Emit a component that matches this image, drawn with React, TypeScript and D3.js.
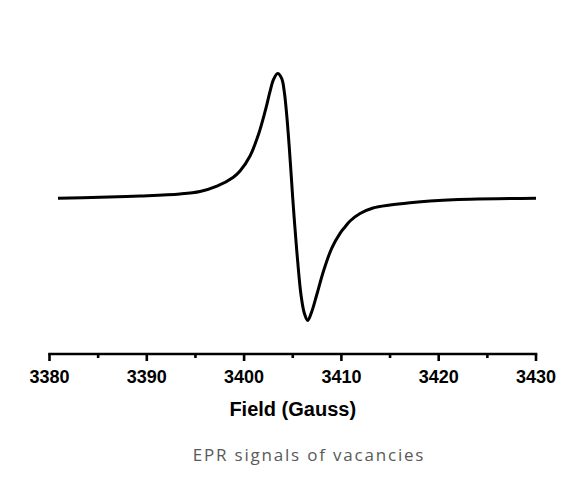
import React from "react";
import * as d3 from "d3";

// Magnetic field (Gauss) and EPR derivative signal (arbitrary units)
const fieldValues: number[] = [
  3380.87, 3385.19, 3389.3, 3393.41, 3395.47, 3397.21, 3398.86, 3399.58, 3400.61, 3401.46,
  3402.15, 3402.66, 3403.0, 3403.45, 3403.86, 3404.13, 3404.38, 3404.65, 3405.0, 3405.23,
  3405.51, 3405.85, 3406.19, 3406.54, 3406.95, 3407.46, 3408.14, 3409.0, 3409.86, 3410.37,
  3410.89, 3411.92, 3413.25, 3415.0, 3417.05, 3419.11, 3423.22, 3430.0,
];
const signalValues: number[] = [
  -0.3, 0.7, 2, 4, 6.5, 11.8, 20.5, 27, 42, 63,
  86.3, 106.3, 118, 124.5, 119.7, 106.3, 83, 49.7, -0.3, -30.3,
  -63.7, -97, -115.3, -122.5, -113.7, -97, -73.7, -50.3, -35.3, -29,
  -23, -15.5, -10, -7, -4.7, -3, -1.3, -0.3,
];

const xTicks: number[] = [3380, 3390, 3400, 3410, 3420, 3430];
const xMinorTicks: number[] = [3385, 3395, 3405, 3415, 3425];
const xTitle = "Field (Gauss)";
const caption = "EPR signals of vacancies";

export default function App() {
  const W = 583;
  const H = 490;
  const x = d3.scaleLinear().domain([3380, 3430]).range([49.5, 536]);
  const y = d3.scaleLinear().domain([-130, 130]).range([328, 68]);
  const axisY = 354;

  const pts = fieldValues.map((f, i) => [f, signalValues[i]] as [number, number]);
  const line = d3
    .line<[number, number]>()
    .x((d) => x(d[0]))
    .y((d) => y(d[1]))
    .curve(d3.curveCatmullRom.alpha(0.5));

  return (
    <svg
      width={W}
      height={H}
      style={{ position: "absolute", left: 0, top: 0, background: "#fff" }}
    >
      <rect x={0} y={0} width={W} height={H} fill="#fff" />
      <path d={line(pts) || ""} fill="none" stroke="#000" strokeWidth={3} strokeLinejoin="round" />
      <line x1={x(3380) - 1.3} x2={x(3430) + 1.3} y1={axisY} y2={axisY} stroke="#000" strokeWidth={2.7} />
      {xTicks.map((t) => (
        <g key={t}>
          <line x1={x(t)} x2={x(t)} y1={axisY} y2={axisY + 7} stroke="#000" strokeWidth={2.6} />
          <text
            x={x(t)}
            y={383}
            textAnchor="middle"
            fontFamily="'Liberation Sans', Arial, sans-serif"
            fontWeight="bold"
            fontSize={18}
            fill="#000"
          >
            {t}
          </text>
        </g>
      ))}
      {xMinorTicks.map((t) => (
        <line key={t} x1={x(t)} x2={x(t)} y1={axisY} y2={axisY + 4} stroke="#000" strokeWidth={2.6} />
      ))}
      <text
        x={(x(3380) + x(3430)) / 2}
        y={416}
        textAnchor="middle"
        fontFamily="'Liberation Sans', Arial, sans-serif"
        fontWeight="bold"
        fontSize={20}
        fill="#000"
      >
        {xTitle}
      </text>
      <text
        x={309}
        y={461}
        textAnchor="middle"
        fontFamily="'Open Sans', sans-serif"
        fontSize={17}
        letterSpacing={1.8}
        fill="#595959"
      >
        {caption}
      </text>
    </svg>
  );
}
